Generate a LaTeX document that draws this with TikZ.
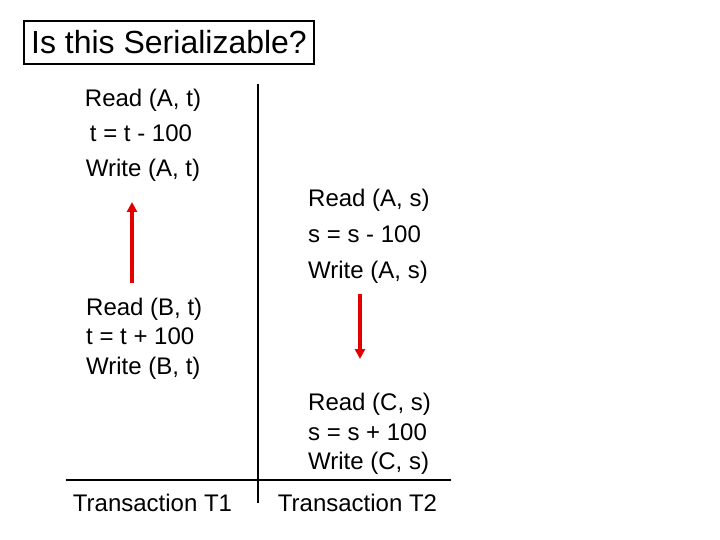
\documentclass[tikz,border=0pt]{standalone}
\usepackage{fontspec}
\setmainfont{Liberation Sans}
\usetikzlibrary{arrows.meta}
\tikzset{
	stmt/.style={anchor=base, font=\fontsize{24}{24}\selectfont, inner sep=0pt},
	stmtleft/.style={stmt, anchor=base west},
	orderarrow/.style={draw=red!90!black, line width=3.2pt, -{Triangle[length=10pt,width=10pt]}}
}

\begin{document}
\begin{tikzpicture}[x=1pt, y=-1pt]
		%%%%% START %%%%%
		\useasboundingbox (0, 0) rectangle (720, 540);
		
		\node[draw, line width=1.2pt, minimum width=290pt, minimum height=43pt, inner sep=0pt, font=\fontsize{32}{32}\selectfont] (title) at (169, 42.5) {Is this Serializable?};
		
		\draw[line width=1.2pt] (258, 84) -- (258, 503);
		\draw[line width=1.2pt] (66, 480) -- (451, 480);
		
		\node[stmt] (readAt) at (143, 106.5) {Read (A, t)};
		\node[stmt] (subt) at (141, 141.5) {t = t - 100};
		\node[stmt] (writeAt) at (143, 176.5) {Write (A, t)};
		
		\node[stmtleft] (readAs) at (308, 207) {Read (A, s)};
		\node[stmtleft] (subs) at (308, 242.5) {s = s - 100};
		\node[stmtleft] (writeAs) at (308, 278) {Write (A, s)};
		
		\node[stmtleft] (readBt) at (86, 315) {Read (B, t)};
		\node[stmtleft] (addt) at (86, 344.5) {t = t + 100};
		\node[stmtleft] (writeBt) at (86, 374) {Write (B, t)};
		
		\node[stmtleft] (readCs) at (308, 410.5) {Read (C, s)};
		\node[stmtleft] (adds) at (308, 440) {s = s + 100};
		\node[stmtleft] (writeCs) at (308, 469.5) {Write (C, s)};
		
		\node[stmt] (tone) at (152.5, 511.5) {Transaction T1};
		\node[stmt] (ttwo) at (357.5, 511.5) {Transaction T2};
		
		\coordinate (upfrom) at (132, 283);
		\coordinate (upto) at (132, 202);
		\coordinate (downfrom) at (360, 294);
		\coordinate (downto) at (360, 359);
		\draw[orderarrow] (upfrom) -- (upto);
		\draw[orderarrow] (downfrom) -- (downto);
		
		%%%%% END %%%%%
	\end{tikzpicture}
\end{document}
